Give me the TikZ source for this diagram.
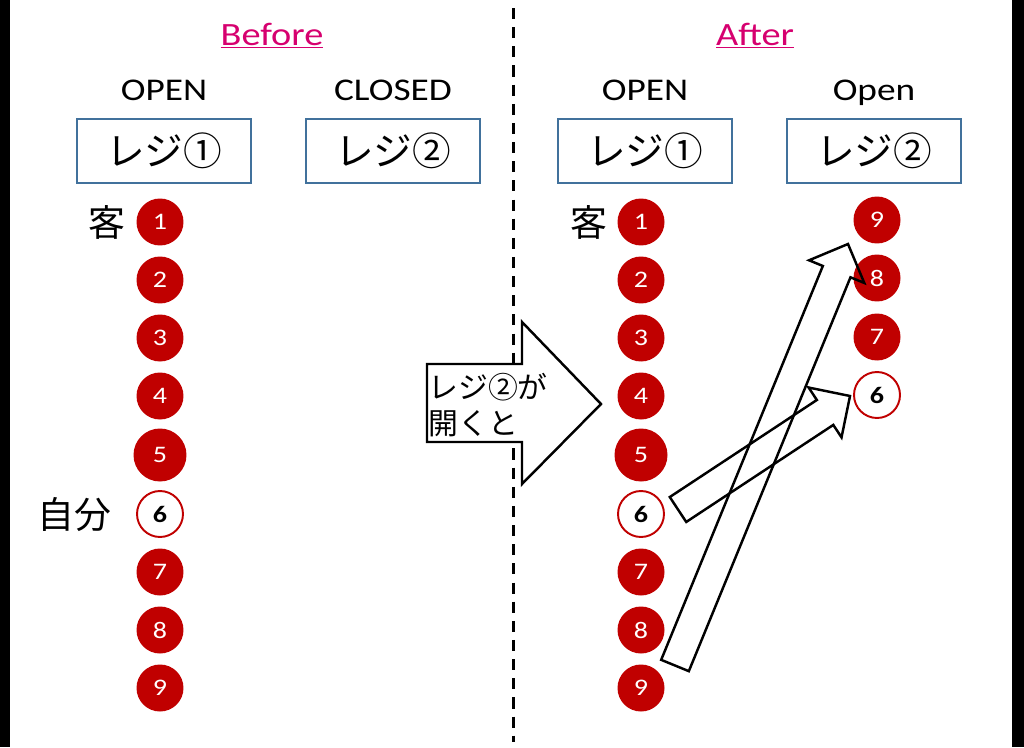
\documentclass[tikz,border=0pt]{standalone}
\usepackage{fontspec}
\setmainfont{Carlito}[FakeStretch=1.18]
\newfontfamily\jp{Noto Sans CJK JP}
\usetikzlibrary{calc}
\definecolor{regred}{RGB}{192,0,0}
\definecolor{boxblue}{RGB}{65,113,156}
\definecolor{headpink}{RGB}{214,0,111}
\newcommand{\fatarrow}[2]{%
  \path ($(#2)!17pt!(#1)$) coordinate (hb);
  \draw[fatline] ($(#1)!8.5pt!90:(#2)$) -- ($(hb)!8.5pt!90:(#2)$)
    -- ($(hb)!17pt!90:(#2)$) -- (#2) -- ($(hb)!17pt!-90:(#2)$)
    -- ($(hb)!8.5pt!-90:(#2)$) -- ($(#1)!8.5pt!-90:(#2)$) -- cycle;}

\begin{document}
\begin{tikzpicture}[x=0.02cm,y=-0.02cm,
  lbl/.style={anchor=base,font=\fontsize{18}{22}\selectfont},
  head/.style={anchor=base,text=headpink,font=\fontsize{18.5}{22}\selectfont},
  reg/.style={draw=boxblue,line width=1.1pt,minimum width=3.48cm,minimum height=1.28cm,
    inner sep=0pt,font=\jp\fontsize{22}{26}\selectfont},
  kanji/.style={font=\jp\fontsize{21}{25}\selectfont},
  cust/.style={circle,fill=regred,text=white,minimum size=0.94cm,inner sep=0pt,
    font=\fontsize{13.5}{16}\selectfont},
  me/.style={circle,draw=regred,fill=white,line width=1.1pt,minimum size=0.92cm,
    inner sep=0pt,font=\bfseries\fontsize{13.5}{16}\selectfont},
  fatline/.style={draw=black,line width=1.4pt,line join=miter},
  bigarrow/.style={draw=black,fill=white,line width=1.4pt,line join=miter}]
\useasboundingbox (0,0) rectangle (1024,747);
\fill[black] (0,0) rectangle (10,747);
\fill[black] (1012,0) rectangle (1024,747);
\coordinate (top) at (513,8);
\coordinate (bot) at (513,742);
\draw[line width=1.7pt,dash pattern=on 6.3pt off 4.6pt] (top) -- (bot);

% before
\node[head] (bef) at (272,45) {\underline{Before}};
\node[lbl] (open1) at (164,100) {OPEN};
\node[lbl] (closed2) at (393,100) {CLOSED};
\node[reg] (R1b) at (164,151) {レジ①};
\node[reg] (R2b) at (393,151) {レジ②};
\node[kanji] (kyaku) at (107,222) {客};
\node[kanji] (jibun) at (74,515) {自分};
\node[cust] (b1) at (160,222) {1};
\node[cust] (b2) at (160,280) {2};
\node[cust] (b3) at (160,338) {3};
\node[cust] (b4) at (160,396) {4};
\node[cust,minimum size=1.06cm] (b5) at (160,455) {5};
\node[me] (b6) at (160,514) {6};
\node[cust] (b7) at (160,572) {7};
\node[cust] (b8) at (160,630) {8};
\node[cust] (b9) at (160,688) {9};

% change
\draw[bigarrow] (427,364) -- (522,364) -- (522,322) -- (601,404)
  -- (522,484) -- (522,442) -- (427,442) -- cycle;
\node[anchor=west,align=left,inner sep=0pt,font=\jp\fontsize{17}{20.5}\selectfont]
  (cue) at (428,405) {レジ②が\\開くと};

% after
\node[head] (aft) at (755,45) {\underline{After}};
\node[lbl] (open3) at (645,100) {OPEN};
\node[lbl] (open4) at (874,100) {Open};
\node[reg] (R1a) at (645,151) {レジ①};
\node[reg] (R2a) at (874,151) {レジ②};
\node[kanji] (kyaku2) at (589,222) {客};
\node[cust] (a1) at (641,222) {1};
\node[cust] (a2) at (641,280) {2};
\node[cust] (a3) at (641,338) {3};
\node[cust] (a4) at (641,396) {4};
\node[cust,minimum size=1.06cm] (a5) at (641,455) {5};
\node[me] (a6) at (641,514) {6};
\node[cust] (a7) at (641,572) {7};
\node[cust] (a8) at (641,630) {8};
\node[cust] (a9) at (641,688) {9};
\node[cust] (c9) at (877,220) {9};
\node[cust] (c8) at (877,278) {8};
\node[cust] (c7) at (877,337) {7};
\node[me] (c6) at (877,395) {6};

\coordinate (m9) at (675,665.5);
\coordinate (n9) at (848,244);
\coordinate (m6) at (678,509.5);
\coordinate (n6) at (850,396);
\fatarrow{m9}{n9}
\fatarrow{m6}{n6}
\end{tikzpicture}
\end{document}
